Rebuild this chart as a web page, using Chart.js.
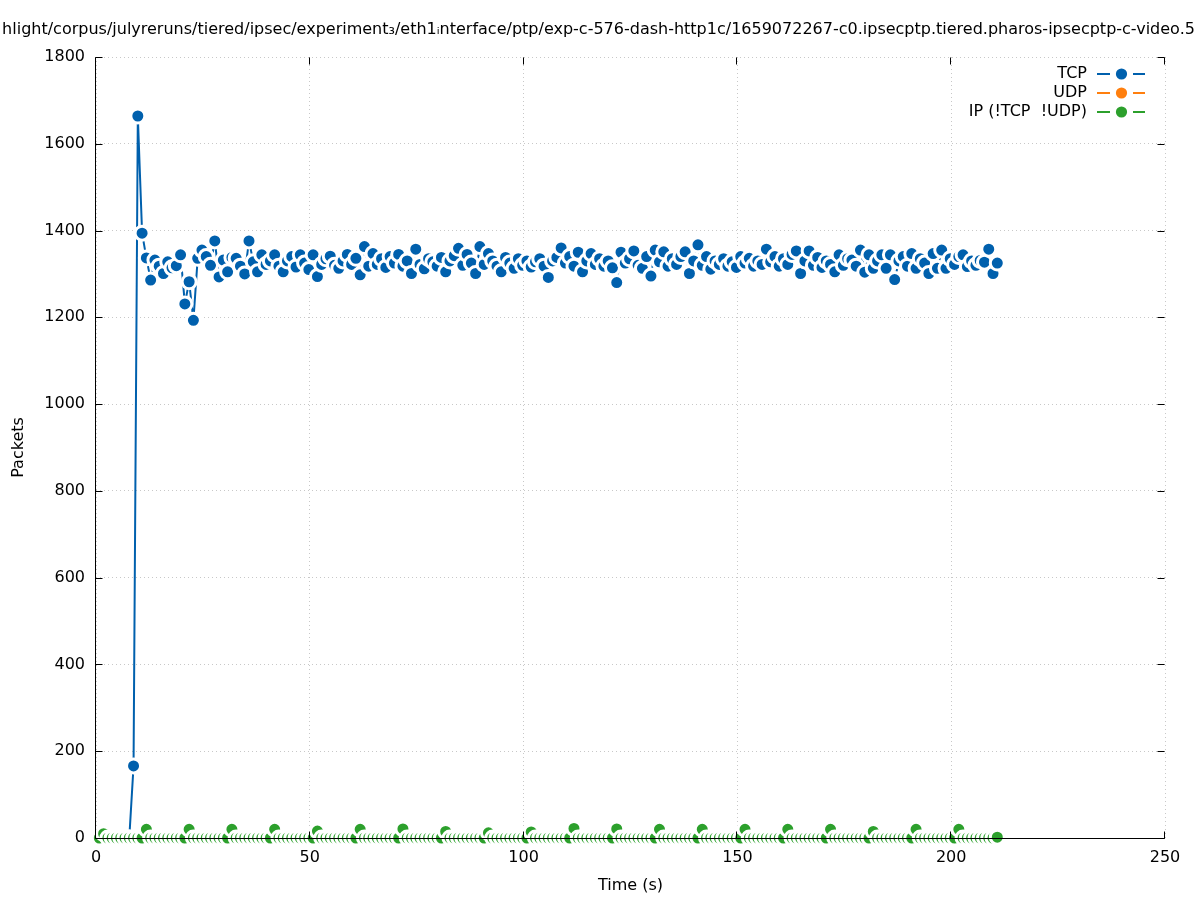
<!DOCTYPE html>
<html>
<head>
<meta charset="utf-8">
<title>Packets over time</title>
<script src="https://cdn.jsdelivr.net/npm/chart.js@4.4.1/dist/chart.umd.min.js"></script>
<style>
  body { margin: 0; background: #fff; }
  #wrap { width: 1197px; height: 900px; }
</style>
</head>
<body>
<div id="wrap"><canvas id="packets"></canvas></div>
<script>
// sample times (s), one per second
const seconds = [
  0.78, 1.78, 2.78, 3.78, 4.78, 5.78, 6.78, 7.78, 8.78, 9.78,
  10.78, 11.78, 12.78, 13.78, 14.78, 15.78, 16.78, 17.78, 18.78, 19.78,
  20.78, 21.78, 22.78, 23.78, 24.78, 25.78, 26.78, 27.78, 28.78, 29.78,
  30.78, 31.78, 32.78, 33.78, 34.78, 35.78, 36.78, 37.78, 38.78, 39.78,
  40.78, 41.78, 42.78, 43.78, 44.78, 45.78, 46.78, 47.78, 48.78, 49.78,
  50.78, 51.78, 52.78, 53.78, 54.78, 55.78, 56.78, 57.78, 58.78, 59.78,
  60.78, 61.78, 62.78, 63.78, 64.78, 65.78, 66.78, 67.78, 68.78, 69.78,
  70.78, 71.78, 72.78, 73.78, 74.78, 75.78, 76.78, 77.78, 78.78, 79.78,
  80.78, 81.78, 82.78, 83.78, 84.78, 85.78, 86.78, 87.78, 88.78, 89.78,
  90.78, 91.78, 92.78, 93.78, 94.78, 95.78, 96.78, 97.78, 98.78, 99.78,
  100.78, 101.78, 102.78, 103.78, 104.78, 105.78, 106.78, 107.78, 108.78, 109.78,
  110.78, 111.78, 112.78, 113.78, 114.78, 115.78, 116.78, 117.78, 118.78, 119.78,
  120.78, 121.78, 122.78, 123.78, 124.78, 125.78, 126.78, 127.78, 128.78, 129.78,
  130.78, 131.78, 132.78, 133.78, 134.78, 135.78, 136.78, 137.78, 138.78, 139.78,
  140.78, 141.78, 142.78, 143.78, 144.78, 145.78, 146.78, 147.78, 148.78, 149.78,
  150.78, 151.78, 152.78, 153.78, 154.78, 155.78, 156.78, 157.78, 158.78, 159.78,
  160.78, 161.78, 162.78, 163.78, 164.78, 165.78, 166.78, 167.78, 168.78, 169.78,
  170.78, 171.78, 172.78, 173.78, 174.78, 175.78, 176.78, 177.78, 178.78, 179.78,
  180.78, 181.78, 182.78, 183.78, 184.78, 185.78, 186.78, 187.78, 188.78, 189.78,
  190.78, 191.78, 192.78, 193.78, 194.78, 195.78, 196.78, 197.78, 198.78, 199.78,
  200.78, 201.78, 202.78, 203.78, 204.78, 205.78, 206.78, 207.78, 208.78, 209.78,
  210.78
];

// TCP starts at seconds[7]
const tcpStart = 7;
const tcpPackets = [
  0,
  166, 1664, 1394, 1337, 1286, 1332, 1318, 1301, 1328, 1314,
  1319, 1344, 1231, 1282, 1193, 1336, 1355, 1340, 1320, 1376,
  1293, 1332, 1305, 1338, 1336, 1318, 1300, 1376, 1328, 1305,
  1344, 1322, 1330, 1344, 1318, 1305, 1330, 1340, 1316, 1344,
  1325, 1310, 1344, 1294, 1322, 1335, 1341, 1320, 1313, 1330,
  1345, 1322, 1336, 1298, 1363, 1318, 1347, 1322, 1335, 1315,
  1340, 1325, 1345, 1318, 1330, 1301, 1357, 1322, 1312, 1335,
  1328, 1318, 1338, 1305, 1330, 1342, 1359, 1320, 1345, 1325,
  1301, 1363, 1322, 1347, 1330, 1318, 1305, 1338, 1325, 1313,
  1335, 1320, 1330, 1316, 1328, 1335, 1318, 1292, 1330, 1338,
  1360, 1325, 1340, 1318, 1350, 1305, 1330, 1347, 1322, 1335,
  1318, 1330, 1314, 1280, 1350, 1325, 1335, 1353, 1320, 1313,
  1340, 1295, 1355, 1328, 1351, 1318, 1335, 1322, 1340, 1351,
  1301, 1330, 1367, 1320, 1340, 1311, 1330, 1322, 1335, 1318,
  1328, 1315, 1340, 1325, 1336, 1318, 1330, 1322, 1357, 1328,
  1340, 1318, 1335, 1322, 1345, 1353, 1301, 1330, 1353, 1320,
  1338, 1315, 1330, 1322, 1305, 1344, 1320, 1335, 1332, 1318,
  1355, 1304, 1344, 1313, 1330, 1344, 1313, 1344, 1287, 1330,
  1340, 1318, 1347, 1313, 1335, 1325, 1301, 1347, 1313, 1355,
  1313, 1335, 1322, 1340, 1344, 1317, 1330, 1320, 1331, 1327,
  1357, 1301, 1325
];

const udpPackets = [];

const ipPackets = [
  0, 10, 0, 0, 0, 0, 0, 0, 0, 0,
  0, 20, 0, 0, 0, 0, 0, 0, 0, 0,
  0, 20, 0, 0, 0, 0, 0, 0, 0, 0,
  0, 20, 0, 0, 0, 0, 0, 0, 0, 0,
  0, 20, 0, 0, 0, 0, 0, 0, 0, 0,
  0, 16, 0, 0, 0, 0, 0, 0, 0, 0,
  0, 20, 0, 0, 0, 0, 0, 0, 0, 0,
  0, 21, 0, 0, 0, 0, 0, 0, 0, 0,
  0, 15, 0, 0, 0, 0, 0, 0, 0, 0,
  0, 12, 0, 0, 0, 0, 0, 0, 0, 0,
  0, 14, 0, 0, 0, 0, 0, 0, 0, 0,
  0, 22, 0, 0, 0, 0, 0, 0, 0, 0,
  0, 21, 0, 0, 0, 0, 0, 0, 0, 0,
  0, 20, 0, 0, 0, 0, 0, 0, 0, 0,
  0, 20, 0, 0, 0, 0, 0, 0, 0, 0,
  0, 20, 0, 0, 0, 0, 0, 0, 0, 0,
  0, 20, 0, 0, 0, 0, 0, 0, 0, 0,
  0, 20, 0, 0, 0, 0, 0, 0, 0, 0,
  0, 15, 0, 0, 0, 0, 0, 0, 0, 0,
  0, 20, 0, 0, 0, 0, 0, 0, 0, 0,
  0, 20, 0, 0, 0, 0, 0, 0, 0, 0,
  2
];

const xTicksStep = 50;
const yTicksStep = 200;

const titleText = 'hlight/corpus/julyreruns/tiered/ipsec/experiment\u2083/eth1\u1D62nterface/ptp/exp-c-576-dash-http1c/1659072267-c0.ipsecptp.tiered.pharos-ipsecptp-c-video.5';

const FONT = 'DejaVu Sans';

function pairs(values, offset) {
  return values.map(function(v, i) { return {x: seconds[offset + i], y: v}; });
}

function series(label, color, data, order) {
  return {
    label: label,
    data: data,
    order: order,
    borderColor: color,
    backgroundColor: color,
    borderWidth: 2,
    pointRadius: 7,
    pointBorderWidth: 3,
    pointBackgroundColor: color,
    pointBorderColor: '#ffffff',
    tension: 0,
    clip: false
  };
}

// gnuplot style frame: left/bottom border on top of data, inward ticks on all sides
const frame = {
  id: 'frame',
  afterDatasetsDraw(chart) {
    const ctx = chart.ctx, a = chart.chartArea;
    const x = chart.scales.x, y = chart.scales.y;
    const L = Math.round(a.left) - 0.5, R = Math.round(a.right) - 0.5;
    const T = Math.round(a.top) + 0.5, B = Math.round(a.bottom) + 0.5;
    const tl = 7;
    ctx.save();
    ctx.strokeStyle = '#000';
    ctx.lineWidth = 1;
    ctx.beginPath();
    ctx.moveTo(L, T);
    ctx.lineTo(L, B);
    ctx.lineTo(R, B);
    y.ticks.forEach(function(t) {
      const py = Math.round(y.getPixelForValue(t.value)) + 0.5;
      ctx.moveTo(L, py); ctx.lineTo(L + tl, py);
      ctx.moveTo(R, py); ctx.lineTo(R - tl, py);
    });
    x.ticks.forEach(function(t) {
      const px = Math.round(x.getPixelForValue(t.value)) - 0.5;
      ctx.moveTo(px, B); ctx.lineTo(px, B - tl);
      ctx.moveTo(px, T); ctx.lineTo(px, T + tl);
    });
    ctx.stroke();
    ctx.restore();
  },
  afterDraw(chart) {
    const ctx = chart.ctx, a = chart.chartArea;
    ctx.save();
    ctx.fillStyle = '#000';
    ctx.font = '16px "' + FONT + '"';
    ctx.textAlign = 'center';
    ctx.textBaseline = 'middle';
    ctx.fillText(titleText, chart.width / 2, 30);

    // legend, top right inside the plot
    ctx.textAlign = 'right';
    chart.data.datasets.forEach(function(ds, i) {
      const cy = a.top + 17 + i * 19;
      const sx = a.right - 68;
      ctx.fillStyle = '#000';
      ctx.fillText(ds.label, a.right - 78, cy);
      ctx.strokeStyle = ds.borderColor;
      ctx.lineWidth = 2;
      ctx.beginPath();
      ctx.moveTo(sx, cy); ctx.lineTo(sx + 13, cy);
      ctx.moveTo(sx + 36, cy); ctx.lineTo(sx + 48, cy);
      ctx.stroke();
      ctx.fillStyle = ds.borderColor;
      ctx.beginPath();
      ctx.arc(sx + 24.5, cy, 5.6, 0, Math.PI * 2);
      ctx.fill();
    });
    ctx.restore();
  }
};

Chart.defaults.font.family = FONT;
Chart.defaults.font.size = 16;
Chart.defaults.color = '#000';

function plain(v) { return String(v); }

new Chart('packets', {
  type: 'line',
  data: {
    datasets: [
      series('TCP', '#0060ad', pairs(tcpPackets, tcpStart), 3),
      series('UDP', '#ff7f0e', pairs(udpPackets, 0), 2),
      series('IP (!TCP  !UDP)', '#2ca02c', pairs(ipPackets, 0), 1)
    ]
  },
  options: {
    responsive: true,
    maintainAspectRatio: false,
    animation: false,
    events: [],
    layout: { padding: { top: 57, right: 32, bottom: 0, left: 0 } },
    plugins: {
      legend: { display: false },
      title: { display: false },
      tooltip: { enabled: false }
    },
    scales: {
      x: {
        type: 'linear',
        min: 0,
        max: 250,
        afterFit: function(s) { s.height = 62; },
        ticks: { stepSize: xTicksStep, padding: 10, maxRotation: 0, callback: plain },
        grid: { color: '#c8c8c8', lineWidth: 1, drawTicks: false },
        border: { display: false, dash: [1, 3] },
        title: { display: true, text: 'Time (s)', padding: { top: 5, bottom: 5 } }
      },
      y: {
        min: 0,
        max: 1800,
        afterFit: function(s) { s.width = 96; },
        ticks: { stepSize: yTicksStep, padding: 11, callback: plain },
        grid: { color: '#c8c8c8', lineWidth: 1, drawTicks: false },
        border: { display: false, dash: [1, 3] },
        title: { display: true, text: 'Packets', padding: { top: 9, bottom: 0 } }
      }
    }
  },
  plugins: [frame]
});
</script>
</body>
</html>
